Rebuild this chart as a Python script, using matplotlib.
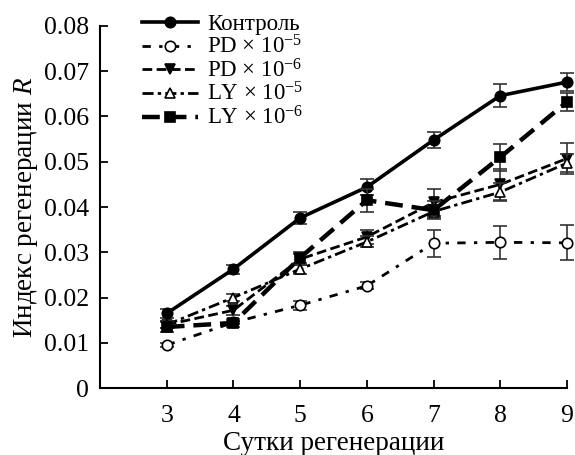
import matplotlib
matplotlib.use("Agg")
import matplotlib.pyplot as plt
from matplotlib.ticker import FuncFormatter

plt.rcParams["font.family"] = ["Liberation Serif", "DejaVu Serif"]
plt.rcParams["mathtext.fontset"] = "custom"
plt.rcParams["mathtext.rm"] = "Liberation Serif"
plt.rcParams["mathtext.it"] = "Liberation Serif:italic"

days = [3, 4, 5, 6, 7, 8, 9]

labels = ["Контроль", "PD × 10$^{-5}$", "PD × 10$^{-6}$",
          "LY × 10$^{-5}$", "LY × 10$^{-6}$"]

control     = [0.0165, 0.0263, 0.0376, 0.0444, 0.0548, 0.0646, 0.0676]
control_err = [0.0010, 0.0010, 0.0013, 0.0018, 0.0018, 0.0025, 0.0020]
pd5         = [0.0095, 0.0145, 0.0183, 0.0226, 0.0320, 0.0322, 0.0321]
pd5_err     = [0.0004, 0.0004, 0.0010, 0.0008, 0.0030, 0.0037, 0.0039]
pd6         = [0.0140, 0.0172, 0.0285, 0.0334, 0.0410, 0.0450, 0.0507]
pd6_err     = [0.0008, 0.0010, 0.0012, 0.0015, 0.0030, 0.0035, 0.0035]
ly5         = [0.0140, 0.0200, 0.0263, 0.0323, 0.0390, 0.0433, 0.0497]
ly5_err     = [0.0008, 0.0008, 0.0010, 0.0012, 0.0015, 0.0020, 0.0020]
ly6         = [0.0135, 0.0144, 0.0288, 0.0415, 0.0393, 0.0510, 0.0632]
ly6_err     = [0.0010, 0.0008, 0.0012, 0.0025, 0.0020, 0.0030, 0.0020]

fig = plt.figure(figsize=(5.75, 4.55), dpi=100)
ax = fig.add_axes([0.174, 0.147, 0.812, 0.796])

styles = [
    dict(ls="-", lw=2.6, marker="o", ms=7.5, mfc="black"),
    dict(ls=(0, (3, 3, 1.2, 3)), lw=2.0, marker="o", ms=7.5, mfc="white"),
    dict(ls=(0, (3.5, 1.6)), lw=2.0, marker="v", ms=7.5, mfc="black"),
    dict(ls=(0, (4, 1.5, 1.2, 1.5)), lw=2.0, marker="^", ms=7.5, mfc="white"),
    dict(ls=(0, (4, 2)), lw=3.2, marker="s", ms=7, mfc="black"),
]
series = [(control, control_err), (pd5, pd5_err), (pd6, pd6_err),
          (ly5, ly5_err), (ly6, ly6_err)]

for (vals, errs), lab, st in zip(series, labels, styles):
    ax.errorbar(days, vals, yerr=errs, fmt="none", ecolor="#333333",
                elinewidth=1.2, capsize=5, capthick=1.2, clip_on=False)
    ax.plot(days, vals, color="black", mec="black", mew=1.2, label=lab,
            clip_on=False, **st)

ax.set_xlim(2, 9)
ax.set_ylim(0, 0.08)
ax.set_xticks(days)
ax.set_yticks([i / 100 for i in range(9)])
ax.yaxis.set_major_formatter(FuncFormatter(lambda v, p: "0" if v == 0 else f"{v:.2f}"))
ax.tick_params(direction="in", length=6, width=1.3, labelsize=18.5)
ax.tick_params(axis="x", pad=12)
ax.tick_params(axis="y", pad=8)
for s in ["top", "right"]:
    ax.spines[s].set_visible(False)
for s in ["left", "bottom"]:
    ax.spines[s].set_linewidth(1.5)

ax.set_xlabel("Сутки регенерации", fontsize=19.5, labelpad=3)
ax.set_ylabel("Индекс регенерации $R$", fontsize=19.5, labelpad=3)

ax.legend(loc="upper left", bbox_to_anchor=(0.065, 1.065), frameon=False,
          fontsize=16.5, handlelength=2.45, handletextpad=0.4, labelspacing=0.02,
          borderpad=0)

fig.savefig("out.png", dpi=100)
